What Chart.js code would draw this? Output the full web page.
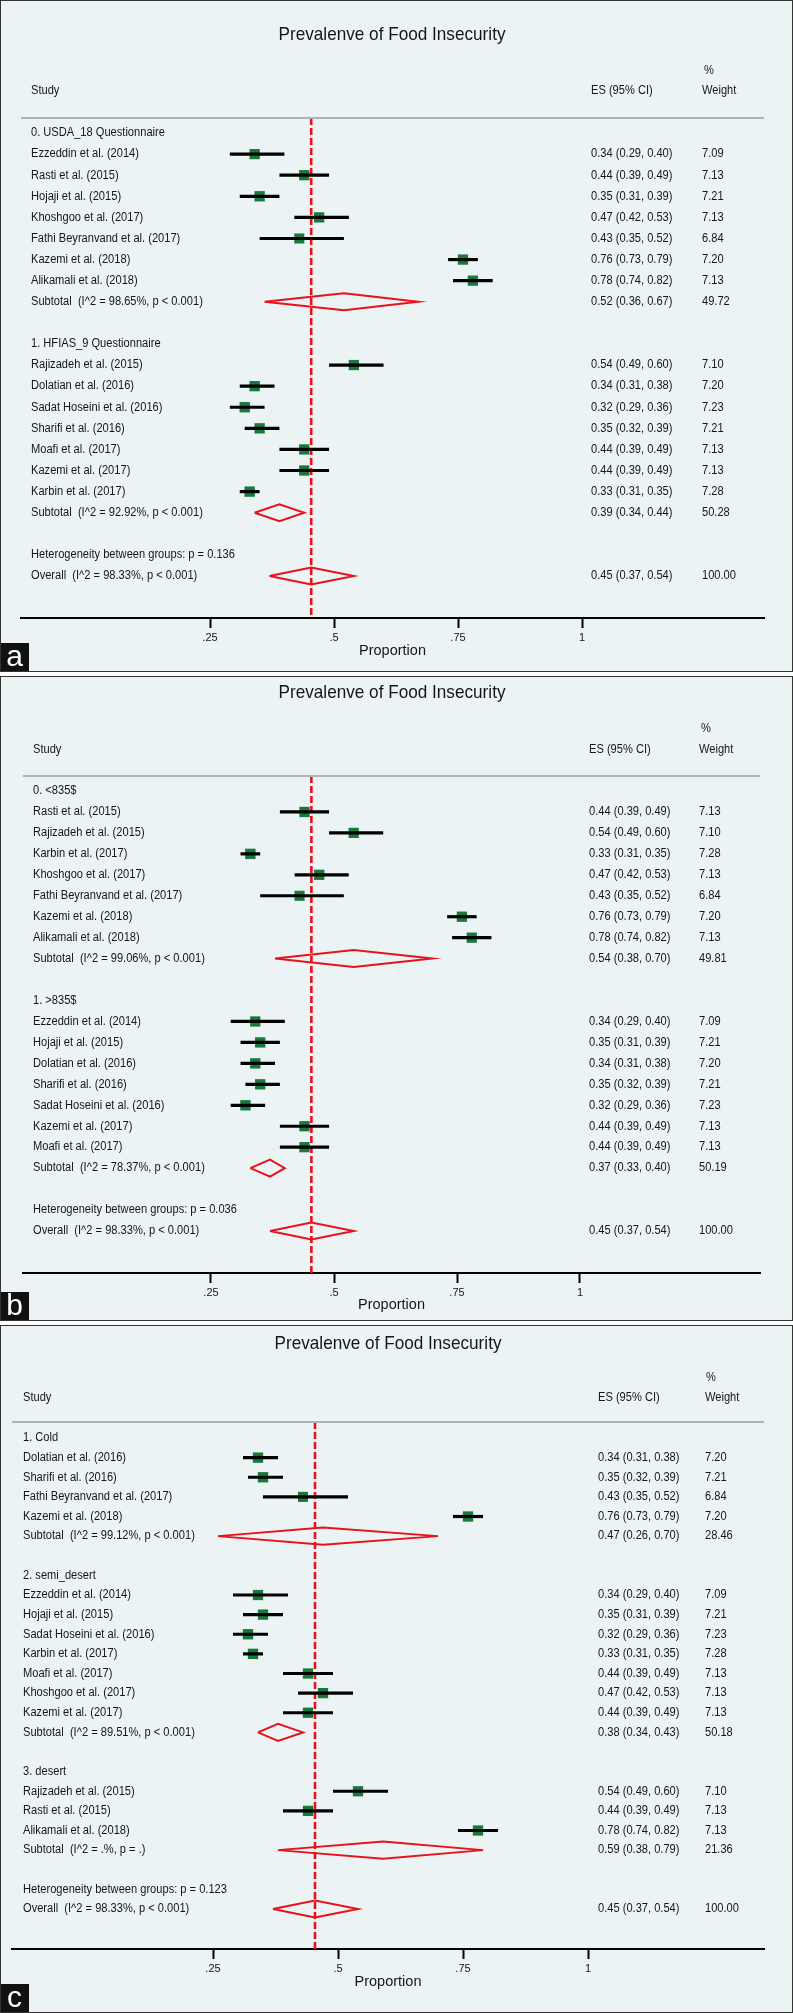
<!DOCTYPE html>
<html>
<head>
<meta charset="utf-8">
<script src="https://cdn.jsdelivr.net/npm/chart.js@4.4.0/dist/chart.umd.min.js"></script>
<style>
body { margin: 0; background: #fff; width: 793px; height: 2013px; position: relative; overflow: hidden; }
canvas { position: absolute; left: 0; }
</style>
</head>
<body>
<canvas id="panelA" width="793" height="672" style="top:0px"></canvas>
<canvas id="panelB" width="793" height="645" style="top:676px"></canvas>
<canvas id="panelC" width="793" height="688" style="top:1325px"></canvas>
<script>
var chartTitle = 'Prevalenve of Food Insecurity';
var tickValues = [0.25, 0.5, 0.75, 1];
var tickLabels = ['.25', '.5', '.75', '1'];

// overall pooled estimate (same in all three panels)
var overallEs = 0.454;
var overallLow = 0.37;
var overallHigh = 0.54;
var overallWeight = 100;
var overallStats = 'I^2 = 98.33%, p < 0.001';

// a: by questionnaire
var groupsA = ['0. USDA_18 Questionnaire', '1. HFIAS_9 Questionnaire'];
var studiesA = ['Ezzeddin et al. (2014)', 'Rasti et al. (2015)', 'Hojaji et al. (2015)', 'Khoshgoo et al. (2017)',
	'Fathi Beyranvand et al. (2017)', 'Kazemi et al. (2018)', 'Alikamali et al. (2018)',
	'Rajizadeh et al. (2015)', 'Dolatian et al. (2016)', 'Sadat Hoseini et al. (2016)', 'Sharifi et al. (2016)',
	'Moafi et al. (2017)', 'Kazemi et al. (2017)', 'Karbin et al. (2017)'];
var groupIdxA = [0, 0, 0, 0, 0, 0, 0, 1, 1, 1, 1, 1, 1, 1];
var esA = [0.34, 0.44, 0.35, 0.47, 0.43, 0.76, 0.78, 0.54, 0.34, 0.32, 0.35, 0.44, 0.44, 0.33];
var lowA = [0.29, 0.39, 0.31, 0.42, 0.35, 0.73, 0.74, 0.49, 0.31, 0.29, 0.32, 0.39, 0.39, 0.31];
var highA = [0.40, 0.49, 0.39, 0.53, 0.52, 0.79, 0.82, 0.60, 0.38, 0.36, 0.39, 0.49, 0.49, 0.35];
var weightA = [7.09, 7.13, 7.21, 7.13, 6.84, 7.20, 7.13, 7.10, 7.20, 7.23, 7.21, 7.13, 7.13, 7.28];
var subEsA = [0.52, 0.39];
var subLowA = [0.36, 0.34];
var subHighA = [0.67, 0.44];
var subWeightA = [49.72, 50.28];
var subStatsA = ['I^2 = 98.65%, p < 0.001', 'I^2 = 92.92%, p < 0.001'];
var hetPA = '0.136';

// b: by income
var groupsB = ['0. <835$', '1. >835$'];
var studiesB = ['Rasti et al. (2015)', 'Rajizadeh et al. (2015)', 'Karbin et al. (2017)', 'Khoshgoo et al. (2017)',
	'Fathi Beyranvand et al. (2017)', 'Kazemi et al. (2018)', 'Alikamali et al. (2018)',
	'Ezzeddin et al. (2014)', 'Hojaji et al. (2015)', 'Dolatian et al. (2016)', 'Sharifi et al. (2016)',
	'Sadat Hoseini et al. (2016)', 'Kazemi et al. (2017)', 'Moafi et al. (2017)'];
var groupIdxB = [0, 0, 0, 0, 0, 0, 0, 1, 1, 1, 1, 1, 1, 1];
var esB = [0.44, 0.54, 0.33, 0.47, 0.43, 0.76, 0.78, 0.34, 0.35, 0.34, 0.35, 0.32, 0.44, 0.44];
var lowB = [0.39, 0.49, 0.31, 0.42, 0.35, 0.73, 0.74, 0.29, 0.31, 0.31, 0.32, 0.29, 0.39, 0.39];
var highB = [0.49, 0.60, 0.35, 0.53, 0.52, 0.79, 0.82, 0.40, 0.39, 0.38, 0.39, 0.36, 0.49, 0.49];
var weightB = [7.13, 7.10, 7.28, 7.13, 6.84, 7.20, 7.13, 7.09, 7.21, 7.20, 7.21, 7.23, 7.13, 7.13];
var subEsB = [0.54, 0.37];
var subLowB = [0.38, 0.33];
var subHighB = [0.70, 0.40];
var subWeightB = [49.81, 50.19];
var subStatsB = ['I^2 = 99.06%, p < 0.001', 'I^2 = 78.37%, p < 0.001'];
var hetPB = '0.036';

// c: by climate
var groupsC = ['1. Cold', '2. semi_desert', '3. desert'];
var studiesC = ['Dolatian et al. (2016)', 'Sharifi et al. (2016)', 'Fathi Beyranvand et al. (2017)', 'Kazemi et al. (2018)',
	'Ezzeddin et al. (2014)', 'Hojaji et al. (2015)', 'Sadat Hoseini et al. (2016)', 'Karbin et al. (2017)',
	'Moafi et al. (2017)', 'Khoshgoo et al. (2017)', 'Kazemi et al. (2017)',
	'Rajizadeh et al. (2015)', 'Rasti et al. (2015)', 'Alikamali et al. (2018)'];
var groupIdxC = [0, 0, 0, 0, 1, 1, 1, 1, 1, 1, 1, 2, 2, 2];
var esC = [0.34, 0.35, 0.43, 0.76, 0.34, 0.35, 0.32, 0.33, 0.44, 0.47, 0.44, 0.54, 0.44, 0.78];
var lowC = [0.31, 0.32, 0.35, 0.73, 0.29, 0.31, 0.29, 0.31, 0.39, 0.42, 0.39, 0.49, 0.39, 0.74];
var highC = [0.38, 0.39, 0.52, 0.79, 0.40, 0.39, 0.36, 0.35, 0.49, 0.53, 0.49, 0.60, 0.49, 0.82];
var weightC = [7.20, 7.21, 6.84, 7.20, 7.09, 7.21, 7.23, 7.28, 7.13, 7.13, 7.13, 7.10, 7.13, 7.13];
var subEsC = [0.47, 0.38, 0.59];
var subLowC = [0.26, 0.34, 0.38];
var subHighC = [0.70, 0.43, 0.79];
var subWeightC = [28.46, 50.18, 21.36];
var subStatsC = ['I^2 = 99.12%, p < 0.001', 'I^2 = 89.51%, p < 0.001', 'I^2 = .%, p = .'];
var hetPC = '0.123';

var BG = '#ebf3f4';
var TXT = '#161616';
var RED = '#e8121c';
var GREEN = '#177a3b';
var FONT = '"Liberation Sans", Arial, sans-serif';
Chart.defaults.font.family = FONT;

function fmt(v) { return v.toFixed(2); }

// narrow text, like the stata export
function squeezeText(c, text, x, y, sx) {
	c.save();
	c.translate(x, y);
	c.scale(sx, 1);
	c.fillText(text, 0, 0);
	c.restore();
}

function buildRows(d) {
	var rows = [];
	var r = 0;
	d.groups.forEach(function(g, gi) {
		rows.push({kind: 'head', row: r++, text: g});
		d.studies.forEach(function(s, i) {
			if (d.groupIdx[i] === gi) {
				rows.push({kind: 'study', row: r++, text: s, es: d.es[i], lo: d.low[i], hi: d.high[i], w: d.weight[i]});
			}
		});
		rows.push({kind: 'sub', row: r++, text: 'Subtotal  (' + d.subStats[gi] + ')',
			es: d.subEs[gi], lo: d.subLow[gi], hi: d.subHigh[gi], w: d.subWeight[gi]});
		r++;
	});
	rows.push({kind: 'het', row: r++, text: 'Heterogeneity between groups: p = ' + d.hetP});
	rows.push({kind: 'sub', row: r++, text: 'Overall  (' + overallStats + ')',
		es: overallEs, lo: overallLow, hi: overallHigh, w: overallWeight});
	return rows;
}

function makePanel(id, d, L) {
	var rows = buildRows(d);
	var yMin = (L.top - L.firstRow) / L.rowPx;
	var yMax = (L.axisY - L.firstRow) / L.rowPx;
	var dh = 8.5 / L.rowPx; // diamond half height in rows

	var datasets = [];
	// overall reference line
	datasets.push({
		data: [{x: overallEs, y: yMin}, {x: overallEs, y: yMax}],
		showLine: true, borderColor: RED, borderWidth: 2.6, borderDash: [7, 3],
		pointRadius: 0, order: 5
	});
	var studyRows = rows.filter(function(r) { return r.kind === 'study'; });
	datasets.push({
		data: studyRows.map(function(r) { return {x: r.es, y: r.row}; }),
		pointStyle: 'rect',
		pointRadius: studyRows.map(function(r) { return 7.3 * Math.sqrt(r.w / 7.2); }),
		backgroundColor: GREEN, borderWidth: 0, order: 4
	});
	studyRows.forEach(function(r) {
		datasets.push({
			data: [{x: r.lo, y: r.row}, {x: r.hi, y: r.row}],
			showLine: true, borderColor: '#000', borderWidth: 3.2, pointRadius: 0, order: 3
		});
	});
	rows.filter(function(r) { return r.kind === 'sub'; }).forEach(function(r) {
		datasets.push({
			data: [{x: r.lo, y: r.row}, {x: r.es, y: r.row - dh}, {x: r.hi, y: r.row},
				{x: r.es, y: r.row + dh}, {x: r.lo, y: r.row}],
			showLine: true, borderColor: RED, borderWidth: 2, pointRadius: 0, fill: false, order: 2
		});
	});

	var textPlugin = {
		id: 'panelText' + id,
		beforeDraw: function(chart) {
			var c = chart.ctx;
			c.save();
			c.fillStyle = BG;
			c.fillRect(0, 0, chart.width, chart.height);
			c.restore();
		},
		afterDraw: function(chart) {
			var c = chart.ctx;
			var area = chart.chartArea;
			var ys = chart.scales.y;
			c.save();
			// header rule
			c.strokeStyle = '#b2b2b2';
			c.lineWidth = 2;
			c.beginPath();
			c.moveTo(area.left, area.top);
			c.lineTo(area.right, area.top);
			c.stroke();

			c.fillStyle = TXT;
			c.textBaseline = 'middle';
			c.textAlign = 'center';
			c.font = '17.7px ' + FONT;
			squeezeText(c, chartTitle, L.titleX, L.titleY, 0.97);

			c.textAlign = 'left';
			c.font = '12px ' + FONT;
			var sx = 0.925;
			squeezeText(c, '%', L.pctX, L.pctY, sx);
			squeezeText(c, 'Study', L.labelX, L.headY, sx);
			squeezeText(c, 'ES (95% CI)', L.esX, L.headY, sx);
			squeezeText(c, 'Weight', L.wX, L.headY, sx);

			rows.forEach(function(r) {
				var y = ys.getPixelForValue(r.row);
				squeezeText(c, r.text, L.labelX, y, sx);
				if (r.es !== undefined) {
					squeezeText(c, fmt(r.es) + ' (' + fmt(r.lo) + ', ' + fmt(r.hi) + ')', L.esX, y, sx);
					squeezeText(c, fmt(r.w), L.wX, y, sx);
				}
			});

			// panel letter
			c.fillStyle = '#111';
			c.fillRect(0, chart.height - 29, 29, 29);
			c.fillStyle = '#fff';
			c.textAlign = 'center';
			c.textBaseline = 'alphabetic';
			c.font = '30px ' + FONT;
			c.fillText(L.letter, 14.5, chart.height - 6);

			// frame
			c.strokeStyle = '#333';
			c.lineWidth = 1;
			c.strokeRect(0.5, 0.5, chart.width - 1, chart.height - 1);
			c.restore();
		}
	};

	return new Chart(document.getElementById(id), {
		type: 'scatter',
		data: {datasets: datasets},
		options: {
			responsive: false,
			animation: false,
			devicePixelRatio: 1,
			events: [],
			layout: {padding: {left: L.left, right: 793 - L.right, top: L.top, bottom: 0}},
			plugins: {legend: {display: false}, tooltip: {enabled: false}},
			scales: {
				x: {
					type: 'linear',
					position: 'bottom',
					min: (L.left - L.xZero) / L.xUnit,
					max: (L.right - L.xZero) / L.xUnit,
					afterBuildTicks: function(s) {
						s.ticks = tickValues.map(function(v) { return {value: v}; });
					},
					afterFit: function(s) { s.height = L.H - L.axisY; },
					ticks: {
						callback: function(v) { return tickLabels[tickValues.indexOf(v)]; },
						color: TXT, font: {size: 11}, padding: 3, maxRotation: 0, autoSkip: false
					},
					grid: {display: true, drawOnChartArea: false, drawTicks: true, tickLength: 10, tickWidth: 2, tickColor: '#000'},
					border: {display: true, color: '#000', width: 2},
					title: {display: true, text: 'Proportion', color: TXT, font: {size: 14.5}, padding: {top: 0, bottom: L.titlePad}}
				},
				y: {type: 'linear', display: false, reverse: true, min: yMin, max: yMax}
			}
		},
		plugins: [textPlugin]
	});
}

makePanel('panelA', {
	groups: groupsA, studies: studiesA, groupIdx: groupIdxA, es: esA, low: lowA, high: highA, weight: weightA,
	subEs: subEsA, subLow: subLowA, subHigh: subHighA, subWeight: subWeightA, subStats: subStatsA, hetP: hetPA
}, {H: 672, left: 21, right: 764, top: 118, axisY: 618, firstRow: 133, rowPx: 21.095, xZero: 86, xUnit: 496,
	labelX: 31, esX: 591, wX: 702, pctX: 704, titleX: 392, titleY: 35, pctY: 71, headY: 91, titlePad: 12.5, letter: 'a'});

makePanel('panelB', {
	groups: groupsB, studies: studiesB, groupIdx: groupIdxB, es: esB, low: lowB, high: highB, weight: weightB,
	subEs: subEsB, subLow: subLowB, subHigh: subHighB, subWeight: subWeightB, subStats: subStatsB, hetP: hetPB
}, {H: 645, left: 23, right: 760, top: 100, axisY: 597, firstRow: 115, rowPx: 20.952, xZero: 88, xUnit: 492,
	labelX: 33, esX: 589, wX: 699, pctX: 701, titleX: 392, titleY: 17, pctY: 53, headY: 74, titlePad: 7.5, letter: 'b'});

makePanel('panelC', {
	groups: groupsC, studies: studiesC, groupIdx: groupIdxC, es: esC, low: lowC, high: highC, weight: weightC,
	subEs: subEsC, subLow: subLowC, subHigh: subHighC, subWeight: subWeightC, subStats: subStatsC, hetP: hetPC
}, {H: 688, left: 12, right: 764, top: 97, axisY: 624, firstRow: 113, rowPx: 19.625, xZero: 88, xUnit: 500,
	labelX: 23, esX: 598, wX: 705, pctX: 706, titleX: 388, titleY: 19, pctY: 53, headY: 73, titlePad: 22.5, letter: 'c'});
</script>
</body>
</html>
